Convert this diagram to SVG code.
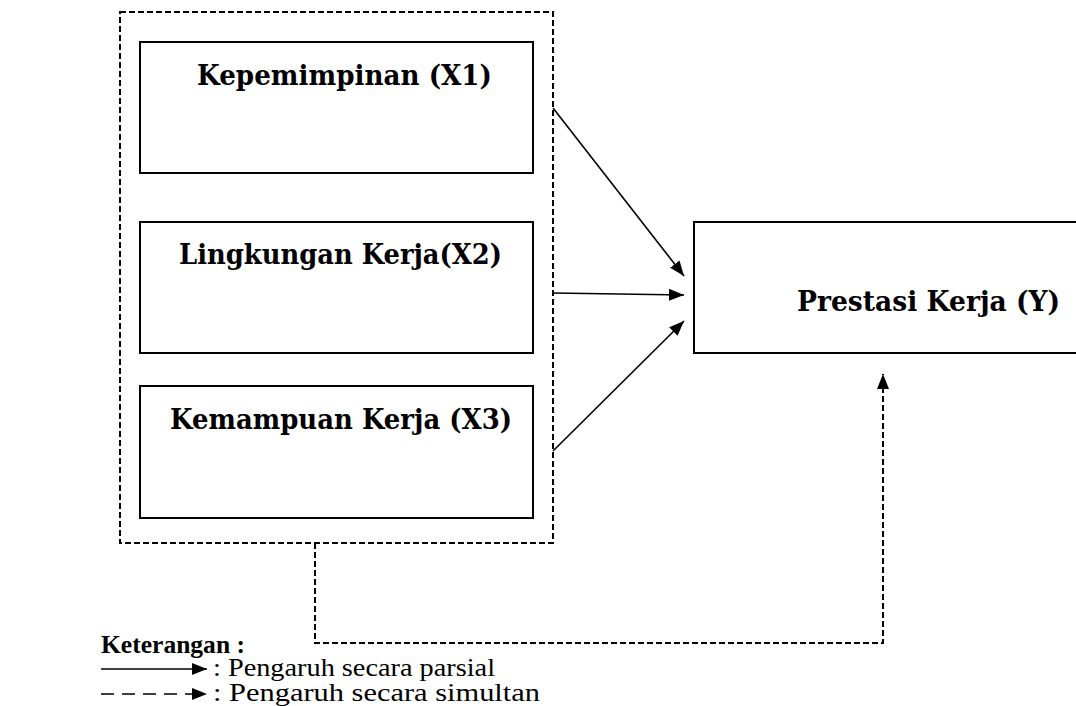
<svg xmlns="http://www.w3.org/2000/svg" width="1076" height="706" viewBox="0 0 1076 706">
<defs>
<style>
.box{fill:#fff;stroke:#000;stroke-width:2}
.dash{fill:none;stroke:#000;stroke-width:2;stroke-dasharray:6 3}
.legdash{fill:none;stroke:#000;stroke-width:1.6;stroke-dasharray:13 8}
.lbl{font-family:"DejaVu Serif","Liberation Serif",serif;font-weight:bold;font-size:27.5px;fill:#000}
.leg{font-family:"Liberation Serif","Times New Roman",serif;font-size:25px;fill:#000}
.legb{font-family:"Liberation Serif","Times New Roman",serif;font-size:25px;font-weight:bold;fill:#000}
.conn{fill:none;stroke:#000;stroke-width:1.6}
</style>
<marker id="ah" markerUnits="userSpaceOnUse" markerWidth="16" markerHeight="12" refX="15" refY="6" orient="auto">
<path d="M0,0 L15,6 L0,12 Z" fill="#000"/>
</marker>
</defs>
<rect id="group-outer" class="dash" x="120" y="12" width="433" height="531"/>
<g id="node-x1">
<rect class="box" x="140" y="42" width="393" height="131"/>
<text class="lbl" x="197" y="85" textLength="295" lengthAdjust="spacingAndGlyphs">Kepemimpinan (X1)</text>
</g>
<g id="node-x2">
<rect class="box" x="140" y="222" width="393" height="131"/>
<text class="lbl" x="179" y="264" textLength="323" lengthAdjust="spacingAndGlyphs">Lingkungan Kerja(X2)</text>
</g>
<g id="node-x3">
<rect class="box" x="140" y="386" width="393" height="132"/>
<text class="lbl" x="170" y="429" textLength="342" lengthAdjust="spacingAndGlyphs">Kemampuan Kerja (X3)</text>
</g>
<g id="node-y">
<rect class="box" x="694" y="222" width="400" height="131"/>
<text class="lbl" x="797" y="311" textLength="263" lengthAdjust="spacingAndGlyphs">Prestasi Kerja (Y)</text>
</g>
<g id="connectors">
<line class="conn" x1="553" y1="108" x2="684" y2="276" marker-end="url(#ah)"/>
<line class="conn" x1="553" y1="293" x2="684" y2="295" marker-end="url(#ah)"/>
<line class="conn" x1="553" y1="451" x2="684" y2="321" marker-end="url(#ah)"/>
<polyline class="dash" points="315,543 315,643 883,643 883,374" marker-end="url(#ah)"/>
</g>
<g id="legend">
<text class="legb" x="101" y="653" textLength="144" lengthAdjust="spacingAndGlyphs">Keterangan :</text>
<line class="conn" x1="101" y1="669" x2="207" y2="669" marker-end="url(#ah)"/>
<text class="leg" x="213" y="676" textLength="282" lengthAdjust="spacingAndGlyphs">: Pengaruh secara parsial</text>
<line class="legdash" x1="101" y1="694" x2="193" y2="694"/>
<path d="M192,688 L207,694 L192,700 Z" fill="#000"/>
<text class="leg" x="213" y="701" textLength="327" lengthAdjust="spacingAndGlyphs">:  Pengaruh secara simultan</text>
</g>
</svg>
